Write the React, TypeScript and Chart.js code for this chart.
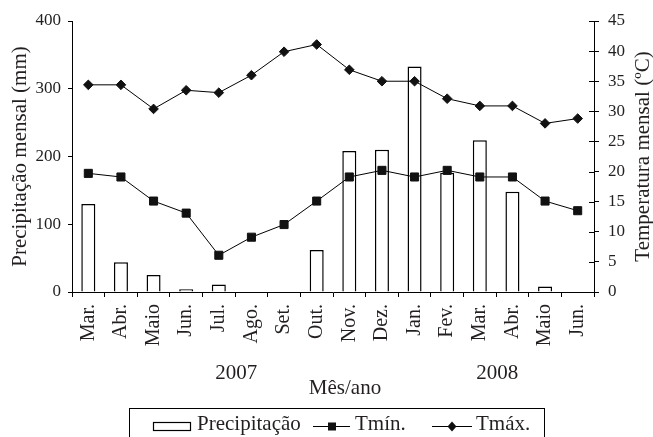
import { useEffect, useRef } from 'react';
import { Chart, registerables } from 'chart.js';

Chart.register(...registerables);

const months = ['Mar.', 'Abr.', 'Maio', 'Jun.', 'Jul.', 'Ago.', 'Set.', 'Out.', 'Nov.', 'Dez.', 'Jan.', 'Fev.', 'Mar.', 'Abr.', 'Maio', 'Jun.'];
const precipitacao = [130, 44, 25, 4, 11, 0, 0, 62, 208, 210, 333, 176, 224, 148, 8, 0];
const tmin = [19.7, 19.1, 15.1, 13.1, 6.1, 9.1, 11.2, 15.1, 19.1, 20.2, 19.1, 20.2, 19.1, 19.1, 15.1, 13.5];
const tmax = [34.4, 34.4, 30.4, 33.5, 33.1, 36.0, 39.9, 41.1, 36.9, 35.0, 35.0, 32.1, 30.9, 30.9, 28.0, 28.8];
const years = ['2007', '2008'];
const yearBetween = [[4, 5], [12, 13]];
const leftTicks = { min: 0, max: 400, step: 100 };
const rightTicks = { min: 0, max: 45, step: 5 };

const FONT = '"Liberation Serif", "Times New Roman", serif';
const TEXT = '#231f20';

const extras = {
  id: 'extras',
  afterDraw(chart: any) {
    const { ctx, chartArea, scales } = chart;
    const x = scales.x;
    const yR = scales.y1;
    ctx.save();
    // inner half of the right-axis ticks
    ctx.strokeStyle = '#000';
    ctx.lineWidth = 1;
    yR.ticks.forEach((t: any) => {
      const py = Math.round(yR.getPixelForValue(t.value)) + 0.5;
      ctx.beginPath();
      ctx.moveTo(chartArea.right - 5, py);
      ctx.lineTo(chartArea.right, py);
      ctx.stroke();
    });
    const midY = (chartArea.top + chartArea.bottom) / 2;
    ctx.fillStyle = TEXT;
    ctx.font = `21px ${FONT}`;
    ctx.textAlign = 'center';
    ctx.textBaseline = 'middle';
    ctx.save();
    ctx.translate(20, midY);
    ctx.rotate(-Math.PI / 2);
    ctx.fillText('Precipitação mensal (mm)', 0, 0);
    ctx.restore();
    ctx.save();
    ctx.translate(643, midY);
    ctx.rotate(-Math.PI / 2);
    ctx.fillText('Temperatura mensal (ºC)', 0, 0);
    ctx.restore();
    // years and x title
    ctx.textBaseline = 'alphabetic';
    years.forEach((yr, i) => {
      const [a, b] = yearBetween[i];
      const px = (x.getPixelForValue(a) + x.getPixelForValue(b)) / 2;
      ctx.fillText(yr, px + 1, 379);
    });
    ctx.fillText('Mês/ano', 345, 394);
    // legend
    ctx.lineWidth = 1;
    ctx.strokeStyle = '#000';
    ctx.strokeRect(129.5, 408.5, 415, 40);
    const ly = 426;
    ctx.lineWidth = 1.2;
    ctx.strokeRect(153.5, 422.5, 37, 8);
    ctx.lineWidth = 1;
    ctx.beginPath();
    ctx.moveTo(313, ly + 0.5);
    ctx.lineTo(350, ly + 0.5);
    ctx.stroke();
    ctx.fillStyle = '#111';
    ctx.fillRect(328, ly - 3.5, 8, 8);
    ctx.beginPath();
    ctx.moveTo(432, ly + 0.5);
    ctx.lineTo(472, ly + 0.5);
    ctx.stroke();
    ctx.beginPath();
    ctx.moveTo(452, ly - 4.5);
    ctx.lineTo(456.5, ly + 0.5);
    ctx.lineTo(452, ly + 5.5);
    ctx.lineTo(447.5, ly + 0.5);
    ctx.closePath();
    ctx.fill();
    ctx.fillStyle = TEXT;
    ctx.textAlign = 'left';
    ctx.fillText('Precipitação', 197, 430);
    ctx.fillText('Tmín.', 355, 430);
    ctx.fillText('Tmáx.', 476, 430);
    ctx.restore();
  },
};

export default function App() {
  const ref = useRef<HTMLCanvasElement>(null);
  useEffect(() => {
    document.body.style.margin = '0';
    const canvas = ref.current;
    if (!canvas) return;
    const chart = new Chart(canvas, {
      type: 'bar',
      data: {
        labels: months,
        datasets: [
          {
            type: 'line',
            label: 'Tmín.',
            data: tmin,
            yAxisID: 'y1',
            borderColor: '#000',
            borderWidth: 1,
            pointStyle: 'rect',
            pointRadius: 5.7,
            pointBackgroundColor: '#111',
            pointBorderColor: '#111',
            pointBorderWidth: 1,
            tension: 0,
            order: 0,
          } as any,
          {
            type: 'line',
            label: 'Tmáx.',
            data: tmax,
            yAxisID: 'y1',
            borderColor: '#000',
            borderWidth: 1,
            pointStyle: 'rectRot',
            pointRadius: 4.8,
            pointBackgroundColor: '#111',
            pointBorderColor: '#111',
            pointBorderWidth: 1,
            tension: 0,
            order: 0,
          } as any,
          {
            type: 'bar',
            label: 'Precipitação',
            data: precipitacao,
            yAxisID: 'y',
            backgroundColor: '#fff',
            borderColor: '#000',
            borderWidth: 1.5,
            categoryPercentage: 1,
            barPercentage: 0.43,
            order: 1,
          } as any,
        ],
      },
      options: {
        responsive: false,
        animation: false,
        layout: { padding: { top: 21, left: 0, right: 0, bottom: 0 } },
        plugins: { legend: { display: false }, tooltip: { enabled: false } },
        scales: {
          x: {
            offset: true,
            grid: { display: true, drawOnChartArea: false, drawTicks: true, tickLength: 5, color: '#000', offset: true },
            border: { display: true, color: '#000', width: 1 },
            ticks: { autoSkip: false, maxRotation: 90, minRotation: 90, color: TEXT, font: { family: FONT, size: 20 }, padding: 7 },
            afterFit: (s: any) => { s.height = 145; },
          },
          y: {
            position: 'left',
            min: leftTicks.min,
            max: leftTicks.max,
            ticks: { stepSize: leftTicks.step, color: TEXT, font: { family: FONT, size: 17 }, padding: 7 },
            grid: { display: true, drawOnChartArea: false, tickLength: 4, color: '#000' },
            border: { display: true, color: '#000', width: 1 },
            afterFit: (s: any) => { s.width = 72; },
          },
          y1: {
            position: 'right',
            min: rightTicks.min,
            max: rightTicks.max,
            ticks: { stepSize: rightTicks.step, color: TEXT, font: { family: FONT, size: 17 }, padding: 9 },
            grid: { display: true, drawOnChartArea: false, tickLength: 5, color: '#000' },
            border: { display: true, color: '#000', width: 1 },
            afterFit: (s: any) => { s.width = 59; },
          },
        },
      },
      plugins: [extras],
    });
    return () => chart.destroy();
  }, []);
  return <canvas ref={ref} width={653} height={437} style={{ display: 'block' }} />;
}
